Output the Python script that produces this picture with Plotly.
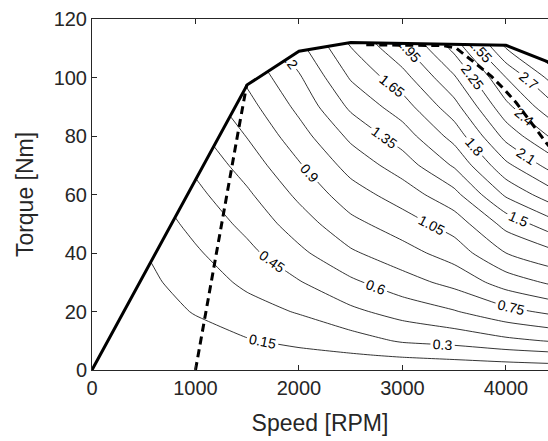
import plotly.graph_objects as go

# Grid of the contour map
speed_grid = [0, 500, 1000, 1500, 2000, 2500, 3000, 3500, 4000, 4500]
torque_grid = [0, 5, 10, 20, 30, 40, 50, 60, 70, 80, 90, 100, 110, 120]
map_values = [
    [0.00, 0.005, 0.010, 0.015, 0.020, 0.030, 0.040, 0.050, 0.060, 0.070],
    [0.00, 0.020, 0.045, 0.078, 0.110, 0.135, 0.166, 0.190, 0.223, 0.256],
    [0.03, 0.040, 0.086, 0.140, 0.185, 0.235, 0.317, 0.350, 0.415, 0.467],
    [0.06, 0.075, 0.160, 0.241, 0.312, 0.418, 0.510, 0.590, 0.704, 0.795],
    [0.09, 0.110, 0.220, 0.331, 0.440, 0.572, 0.689, 0.796, 0.968, 1.091],
    [0.12, 0.149, 0.280, 0.410, 0.566, 0.728, 0.841, 0.968, 1.200, 1.329],
    [0.16, 0.200, 0.344, 0.492, 0.677, 0.858, 0.979, 1.118, 1.400, 1.620],
    [0.20, 0.250, 0.410, 0.576, 0.782, 0.983, 1.121, 1.304, 1.675, 1.920],
    [0.24, 0.300, 0.481, 0.666, 0.885, 1.106, 1.273, 1.519, 1.915, 2.195],
    [0.28, 0.350, 0.560, 0.757, 0.988, 1.233, 1.425, 1.706, 2.150, 2.458],
    [0.32, 0.400, 0.642, 0.845, 1.088, 1.378, 1.579, 1.894, 2.357, 2.700],
    [0.36, 0.450, 0.725, 0.933, 1.180, 1.515, 1.742, 2.081, 2.550, 2.950],
    [0.40, 0.500, 0.820, 1.020, 1.300, 1.644, 1.915, 2.291, 2.850, 3.200],
    [0.44, 0.550, 0.900, 1.110, 1.425, 1.800, 2.090, 2.550, 3.150, 3.450],
]

# Maximum torque envelope
max_speed = [0, 1500, 2000, 2500, 4000, 4500]
max_torque = [0, 97.5, 109, 112, 111, 104]

# Dashed lines
dash_left_speed = [1000, 1090, 1185, 1268, 1335, 1415, 1495]
dash_left_torque = [0, 18, 36, 54, 66, 82, 97.5]
dash_right_speed = [2650, 3400, 3520, 3585, 3700, 3862, 3990, 4103, 4200, 4280, 4393, 4500]
dash_right_torque = [111.2, 110.9, 110.0, 108.3, 105.0, 100.3, 95.7, 91.2, 86.6, 82.6, 77.5, 73.0]

x_ticks = [0, 1000, 2000, 3000, 4000]
y_ticks = [0, 20, 40, 60, 80, 100, 120]

FONT = "Liberation Sans, Arial, sans-serif"
INK = "#262626"

fig = go.Figure()

fig.add_trace(go.Contour(
    x=speed_grid, y=torque_grid, z=map_values,
    contours=dict(start=0.15, end=3.45, size=0.15, coloring="lines",
                  showlabels=True, labelformat=".3~g",
                  labelfont=dict(family=FONT, size=14, color="black")),
    colorscale=[[0, "black"], [1, "black"]],
    showscale=False,
    line=dict(width=0.8, smoothing=0.6),
    hoverinfo="skip",
))

# white mask above the envelope
fig.add_trace(go.Scatter(
    x=max_speed + [4500, 0], y=max_torque + [130, 130],
    mode="lines", fill="toself", fillcolor="white",
    line=dict(width=0, color="white"), hoverinfo="skip", showlegend=False,
))

fig.add_trace(go.Scatter(
    x=dash_left_speed, y=dash_left_torque, mode="lines",
    line=dict(color="black", width=3, dash="8px,5px"), showlegend=False,
))
fig.add_trace(go.Scatter(
    x=dash_right_speed, y=dash_right_torque, mode="lines",
    line=dict(color="black", width=3, dash="8px,5px"), showlegend=False,
))
fig.add_trace(go.Scatter(
    x=max_speed, y=max_torque, mode="lines",
    line=dict(color="black", width=3), showlegend=False,
))

fig.update_layout(
    width=548, height=441,
    margin=dict(l=92, r=0, t=19, b=71),
    paper_bgcolor="white", plot_bgcolor="white",
    font=dict(family=FONT, color=INK),
    showlegend=False,
    xaxis=dict(range=[0, 4406], tickvals=x_ticks, ticks="inside", ticklen=5,
               tickcolor=INK, showline=True, linecolor=INK, linewidth=1,
               mirror="ticks", showgrid=False, zeroline=False,
               tickfont=dict(size=20, color=INK),
               title=dict(text="Speed [RPM]", font=dict(size=23, color=INK), standoff=16)),
    yaxis=dict(range=[0, 120], tickvals=y_ticks, ticks="inside", ticklen=5,
               tickcolor=INK, showline=True, linecolor=INK, linewidth=1,
               mirror=False, showgrid=False, zeroline=False,
               tickfont=dict(size=20, color=INK),
               title=dict(text="Torque [Nm]", font=dict(size=23, color=INK), standoff=13)),
)

fig.write_html("out.html")
